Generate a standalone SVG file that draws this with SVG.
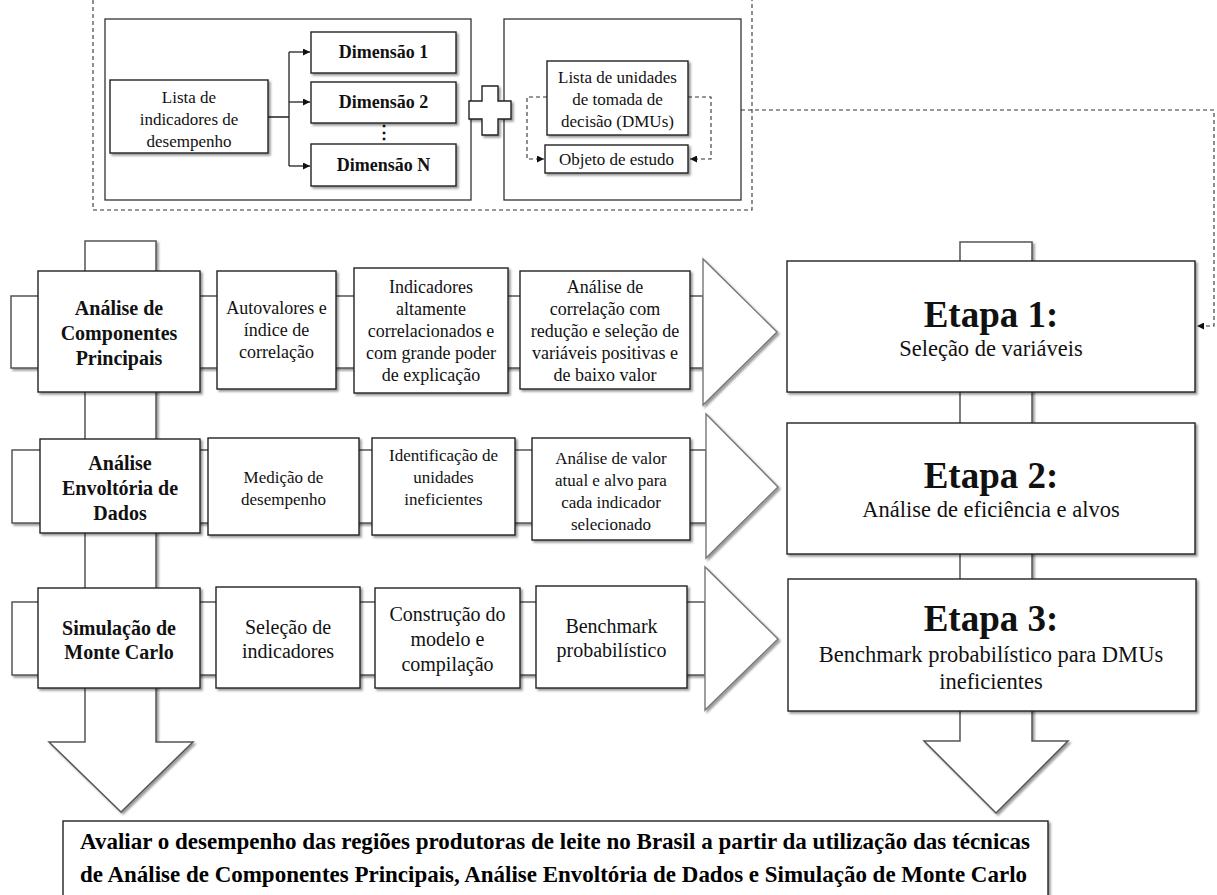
<svg xmlns="http://www.w3.org/2000/svg" width="1217" height="895" viewBox="0 0 1217 895" font-family="'Liberation Serif', 'Times New Roman', 'DejaVu Serif', serif">
  <style>
    text { font-family: 'Liberation Serif', 'Times New Roman', 'DejaVu Serif', serif; fill: #111; text-anchor: middle; }
    .box { fill: #fff; stroke: #222; stroke-width: 1.4; filter: url(#sh); }
    .frame { fill: #fff; stroke: #333; stroke-width: 1.3; }
    .band { fill: #fff; stroke: #555; stroke-width: 1.5; filter: url(#sh); }
    .head { fill: #fff; stroke: #777; stroke-width: 1.4; filter: url(#sh); }
    .dash { fill: none; stroke: #333; stroke-width: 1.1; stroke-dasharray: 4 3; }
    .line { fill: none; stroke: #222; stroke-width: 1.3; }
    .t17 { font-size: 17px; }
    .t18 { font-size: 18px; }
    .t20 { font-size: 20px; }
    .b18 { font-size: 18px; font-weight: bold; }
    .b20 { font-size: 20px; font-weight: bold; }
    .etapa { font-size: 37px; font-weight: bold; }
    .sub { font-size: 22.5px; }
    .goal { font-size: 24px; font-weight: bold; fill: #000; }
  </style>
  <defs>
    <filter id="sh" x="-10%" y="-10%" width="130%" height="130%">
      <feDropShadow dx="2" dy="2" stdDeviation="1.3" flood-color="#000" flood-opacity="0.4"/>
    </filter>
    <marker id="ah" viewBox="0 0 10 10" refX="10" refY="5" markerWidth="7" markerHeight="7" markerUnits="userSpaceOnUse" orient="auto">
      <path d="M0,0 L10,5 L0,10 z" fill="#111"/>
    </marker>
  </defs>
  <rect width="1217" height="895" fill="#fff"/>

  <!-- block arrows and link lines -->
  <g id="connectors">
    <!-- vertical shafts -->
    <polygon class="band" points="85,241 156,241 156,742 193,742 121,812 49,742 85,742"/>
    <polygon class="band" points="960,242 1032,242 1032,741 1068,741 996,813 924,741 960,741"/>
    <!-- row shafts with heads -->
    <polygon class="band" points="11,296 703,296 703,368 11,368"/>
    <polygon class="head" points="703,296 703,259 777,332 703,405 703,368"/>
    <polygon class="band" points="12,450 706,450 706,523 12,523"/>
    <polygon class="head" points="706,450 706,414 778,487 706,558 706,523"/>
    <polygon class="band" points="12,602 705,602 705,675 12,675"/>
    <polygon class="head" points="705,602 705,567 778,639 705,710 705,675"/>

    <!-- outer dashed frame of the input block -->
    <path class="dash" d="M93,0 V210 H752 V0"/>
  </g>

  <!-- input block: indicators -->
  <g id="indicadores">
    <rect class="frame" x="105" y="19" width="366" height="181"/>
  </g>
  <g id="dmus-frame">
    <rect class="frame" x="504" y="19" width="237" height="181"/>
  </g>

  <g id="links-top">
    <path class="line" d="M268,117 H289 M289,52 V166"/>
    <path class="line" d="M289,52 H310" marker-end="url(#ah)"/>
    <path class="line" d="M289,102 H310" marker-end="url(#ah)"/>
    <path class="line" d="M289,166 H310" marker-end="url(#ah)"/>
    <path class="dash" d="M547,97 H527 V159 H544" marker-end="url(#ah)"/>
    <path class="dash" d="M688,97 H711 V159 H690" marker-end="url(#ah)"/>
    <path class="dash" d="M741,110 H1214 V326 H1197" marker-end="url(#ah)"/>
  </g>

  <g id="lista-indicadores">
    <rect class="box" x="110" y="80" width="158" height="73"/>
    <text class="t17" x="189" y="103">Lista de</text>
    <text class="t17" x="189" y="125">indicadores de</text>
    <text class="t17" x="189" y="147">desempenho</text>
  </g>
  <g id="dimensao-1">
    <rect class="box" x="311" y="32" width="145" height="41"/>
    <text class="b18" x="383.5" y="58">Dimensão 1</text>
  </g>
  <g id="dimensao-2">
    <rect class="box" x="311" y="82" width="145" height="41"/>
    <text class="b18" x="383.5" y="108">Dimensão 2</text>
  </g>
  <g id="dimensao-dots">
    <text class="b18" x="383.5" y="138">⋮</text>
  </g>
  <g id="dimensao-n">
    <rect class="box" x="311" y="144" width="145" height="42"/>
    <text class="b18" x="383.5" y="171">Dimensão N</text>
  </g>
  <g id="plus">
    <polygon class="box" points="482,86 498,86 498,101 511,101 511,119 498,119 498,135 482,135 482,119 469,119 469,101 482,101"/>
  </g>
  <g id="lista-dmus">
    <rect class="box" x="547" y="61" width="141" height="74"/>
    <text class="t17" x="617.5" y="83">Lista de unidades</text>
    <text class="t17" x="617.5" y="105">de tomada de</text>
    <text class="t17" x="617.5" y="127">decisão (DMUs)</text>
  </g>
  <g id="objeto-estudo">
    <rect class="box" x="545" y="145" width="143" height="28"/>
    <text class="t17" x="616.5" y="165">Objeto de estudo</text>
  </g>

  <!-- row 1: principal components -->
  <g id="acp">
    <rect class="box" x="38" y="271" width="162" height="121"/>
    <text class="b20" x="119" y="315">Análise de</text>
    <text class="b20" x="119" y="340">Componentes</text>
    <text class="b20" x="119" y="365">Principais</text>
  </g>
  <g id="autovalores">
    <rect class="box" x="217" y="271" width="119" height="118"/>
    <text class="t18" x="276.5" y="314">Autovalores e</text>
    <text class="t18" x="276.5" y="336">índice de</text>
    <text class="t18" x="276.5" y="358">correlação</text>
  </g>
  <g id="indicadores-correlacionados">
    <rect class="box" x="354" y="268" width="154" height="125"/>
    <text class="t18" x="431" y="293">Indicadores</text>
    <text class="t18" x="431" y="315">altamente</text>
    <text class="t18" x="431" y="337">correlacionados e</text>
    <text class="t18" x="431" y="359">com grande poder</text>
    <text class="t18" x="431" y="381">de explicação</text>
  </g>
  <g id="analise-correlacao">
    <rect class="box" x="520" y="271" width="170" height="118"/>
    <text class="t18" x="605" y="293">Análise de</text>
    <text class="t18" x="605" y="315">correlação com</text>
    <text class="t18" x="605" y="337">redução e seleção de</text>
    <text class="t18" x="605" y="359">variáveis positivas e</text>
    <text class="t18" x="605" y="381">de baixo valor</text>
  </g>

  <!-- row 2: data envelopment analysis -->
  <g id="dea">
    <rect class="box" x="40" y="439" width="160" height="94"/>
    <text class="b20" x="120" y="470">Análise</text>
    <text class="b20" x="120" y="495">Envoltória de</text>
    <text class="b20" x="120" y="520">Dados</text>
  </g>
  <g id="medicao">
    <rect class="box" x="208" y="438" width="151" height="97"/>
    <text class="t17" x="283.5" y="483">Medição de</text>
    <text class="t17" x="283.5" y="505">desempenho</text>
  </g>
  <g id="identificacao">
    <rect class="box" x="372" y="438" width="143" height="97"/>
    <text class="t17" x="443.5" y="461">Identificação de</text>
    <text class="t17" x="443.5" y="483">unidades</text>
    <text class="t17" x="443.5" y="505">ineficientes</text>
  </g>
  <g id="valor-alvo">
    <rect class="box" x="532" y="438" width="158" height="102"/>
    <text class="t17" x="611" y="464">Análise de valor</text>
    <text class="t17" x="611" y="486">atual e alvo para</text>
    <text class="t17" x="611" y="508">cada indicador</text>
    <text class="t17" x="611" y="530">selecionado</text>
  </g>

  <!-- row 3: Monte Carlo simulation -->
  <g id="monte-carlo">
    <rect class="box" x="38" y="588" width="162" height="100"/>
    <text class="b20" x="119" y="635">Simulação de</text>
    <text class="b20" x="119" y="659">Monte Carlo</text>
  </g>
  <g id="selecao-indicadores">
    <rect class="box" x="216" y="587" width="144" height="101"/>
    <text class="t20" x="288" y="634">Seleção de</text>
    <text class="t20" x="288" y="658">indicadores</text>
  </g>
  <g id="construcao">
    <rect class="box" x="375" y="588" width="145" height="100"/>
    <text class="t20" x="447.5" y="621">Construção do</text>
    <text class="t20" x="447.5" y="646">modelo e</text>
    <text class="t20" x="447.5" y="671">compilação</text>
  </g>
  <g id="benchmark">
    <rect class="box" x="536" y="586" width="151" height="102"/>
    <text class="t20" x="611.5" y="633">Benchmark</text>
    <text class="t20" x="611.5" y="657">probabilístico</text>
  </g>

  <!-- stages -->
  <g id="etapa-1">
    <rect class="box" x="787" y="261" width="408" height="131"/>
    <text class="etapa" x="991" y="327">Etapa 1:</text>
    <text class="sub" x="991" y="356">Seleção de variáveis</text>
  </g>
  <g id="etapa-2">
    <rect class="box" x="787" y="423" width="408" height="131"/>
    <text class="etapa" x="991" y="488">Etapa 2:</text>
    <text class="sub" x="991" y="517">Análise de eficiência e alvos</text>
  </g>
  <g id="etapa-3">
    <rect class="box" x="788" y="579" width="408" height="132"/>
    <text class="etapa" x="991" y="631">Etapa 3:</text>
    <text class="sub" x="991" y="662">Benchmark probabilístico para DMUs</text>
    <text class="sub" x="991" y="689">ineficientes</text>
  </g>

  <!-- objective -->
  <g id="objetivo">
    <rect class="box" x="63" y="821" width="985" height="80"/>
    <text class="goal" x="555" y="849" textLength="950" lengthAdjust="spacingAndGlyphs">Avaliar o desempenho das regiões produtoras de leite no Brasil a partir da utilização das técnicas</text>
    <text class="goal" x="553.5" y="882" textLength="947" lengthAdjust="spacingAndGlyphs">de Análise de Componentes Principais, Análise Envoltória de Dados e Simulação de Monte Carlo</text>
  </g>
</svg>
